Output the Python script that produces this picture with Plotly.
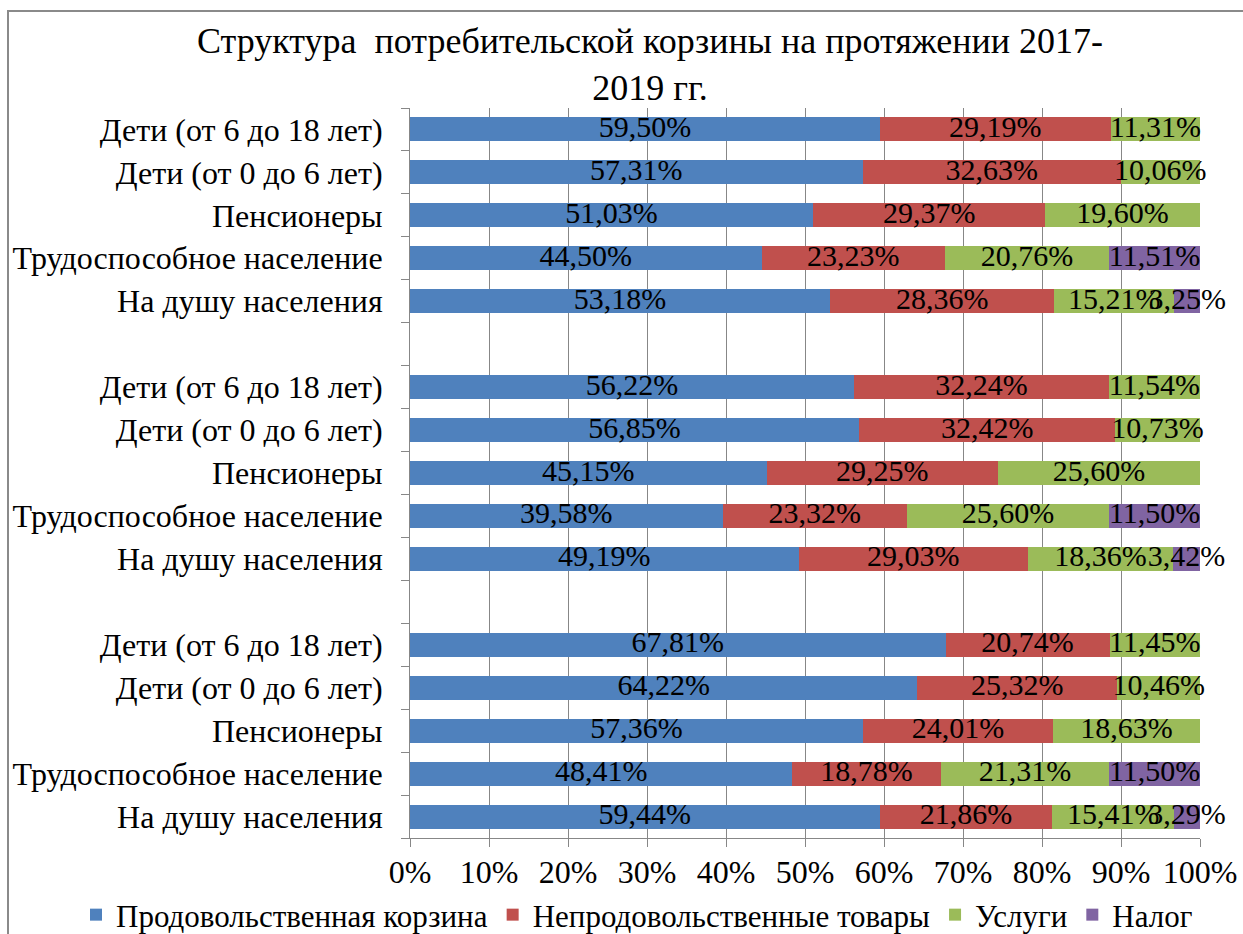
import plotly.graph_objects as go

# ---------------- data ----------------
categories = [
    "Дети (от 6 до 18 лет)",
    "Дети (от 0 до 6 лет)",
    "Пенсионеры",
    "Трудоспособное население",
    "На душу населения",
]  # top-to-bottom order inside a group

series_names = ["Продовольственная корзина", "Непродовольственные товары", "Услуги", "Налог"]
series_colors = ["#4F81BD", "#C0504D", "#9BBB59", "#8064A2"]

# groups listed top-to-bottom as drawn
group_top_food = [59.50, 57.31, 51.03, 44.50, 53.18]
group_top_nonfood = [29.19, 32.63, 29.37, 23.23, 28.36]
group_top_services = [11.31, 10.06, 19.60, 20.76, 15.21]
group_top_tax = [0, 0, 0, 11.51, 3.25]

group_mid_food = [56.22, 56.85, 45.15, 39.58, 49.19]
group_mid_nonfood = [32.24, 32.42, 29.25, 23.32, 29.03]
group_mid_services = [11.54, 10.73, 25.60, 25.60, 18.36]
group_mid_tax = [0, 0, 0, 11.50, 3.42]

group_bot_food = [67.81, 64.22, 57.36, 48.41, 59.44]
group_bot_nonfood = [20.74, 25.32, 24.01, 18.78, 21.86]
group_bot_services = [11.45, 10.46, 18.63, 21.31, 15.41]
group_bot_tax = [0, 0, 0, 11.50, 3.29]

x_ticks = list(range(0, 101, 10))
x_tick_labels = [f"{v}%" for v in x_ticks]

# ---------------- build axis categories (bottom to top) ----------------
groups = [
    [group_bot_food, group_bot_nonfood, group_bot_services, group_bot_tax],
    [group_mid_food, group_mid_nonfood, group_mid_services, group_mid_tax],
    [group_top_food, group_top_nonfood, group_top_services, group_top_tax],
]

y_labels = []
series_vals = [[] for _ in series_names]
for gi, g in enumerate(groups):
    if gi > 0:
        y_labels.append("\u200b" * (10 + gi))  # empty gap slot
        for s in range(len(series_names)):
            series_vals[s].append(None)
    for ci in reversed(range(len(categories))):
        y_labels.append(categories[ci] + "\u200b" * gi)
        for s in range(len(series_names)):
            series_vals[s].append(g[s][ci])


def fmt(v):
    return f"{v:.2f}".replace(".", ",") + "%"


FONT = "Liberation Serif"

W, H = 1243, 934
L, R, T, B = 410, 43, 108, 96
PW, PH = W - L - R, H - T - B

fig = go.Figure()
for s, name in enumerate(series_names):
    vals = [None if (v is None or v == 0) else v for v in series_vals[s]]
    fig.add_trace(go.Bar(
        x=vals,
        y=y_labels,
        orientation="h",
        name=name,
        marker=dict(color=series_colors[s], line=dict(width=0)),
        textposition="none",
        hoverinfo="skip",
    ))

# data labels centred on each segment (cumulative midpoints of the stacked values)
for s in range(len(series_names)):
    lx, ly, lt = [], [], []
    for i, lab in enumerate(y_labels):
        v = series_vals[s][i]
        if v is None or v == 0:
            continue
        base = sum((series_vals[k][i] or 0) for k in range(s))
        lx.append(base + v / 2)
        ly.append(lab)
        lt.append(fmt(v))
    fig.add_trace(go.Scatter(
        x=lx, y=ly, text=lt, mode="text",
        textposition="middle center",
        textfont=dict(family=FONT, size=30, color="black"),
        showlegend=False, cliponaxis=False, hoverinfo="skip",
    ))

fig.update_layout(
    barmode="stack",
    bargap=0.44,
    width=W,
    height=H,
    margin=dict(l=L, r=R, t=T, b=B, autoexpand=False),
    paper_bgcolor="white",
    plot_bgcolor="white",
    font=dict(family=FONT, size=30, color="black"),
    title=dict(
        text="Структура\u00a0 потребительской корзины на протяжении 2017-<br>2019 гг.",
        font=dict(family=FONT, size=36, color="black"),
        xref="container", x=650 / W, xanchor="center",
        yref="container", y=1 - 53 / H, yanchor="top",
    ),
    legend=dict(
        orientation="h",
        xref="paper", yref="paper",
        x=(76 - L) / PW, xanchor="left",
        y=(H - B - 915) / PH, yanchor="middle",
        font=dict(family=FONT, size=31, color="black"),
        itemwidth=30,
        traceorder="normal",
        bgcolor="rgba(0,0,0,0)",
    ),
    showlegend=True,
)

fig.update_xaxes(
    range=[0, 100],
    tickvals=x_ticks,
    ticktext=x_tick_labels,
    showgrid=True,
    gridcolor="#878787",
    gridwidth=1,
    showline=True,
    linecolor="#878787",
    linewidth=1,
    ticks="outside",
    ticklen=8,
    tickcolor="#878787",
    ticklabelstandoff=-2,
    zeroline=False,
    tickfont=dict(family=FONT, size=32, color="black"),
    fixedrange=True,
)

fig.update_yaxes(
    type="category",
    categoryorder="array",
    categoryarray=y_labels,
    range=[-0.5, len(y_labels) - 0.5],
    autorange=False,
    showgrid=False,
    showline=True,
    linecolor="#878787",
    linewidth=1,
    ticks="outside",
    tickson="boundaries",
    ticklen=8,
    tickcolor="#878787",
    ticklabelstandoff=20,
    tickfont=dict(family=FONT, size=32, color="black"),
    fixedrange=True,
)

# outer chart-area border (left/top visible as in the reference)
fig.add_shape(
    type="rect", xref="paper", yref="paper",
    x0=(8 - L) / PW, x1=1.2, y0=-0.3, y1=(H - B - 11) / PH,
    line=dict(color="#8a8a8a", width=2), fillcolor="rgba(0,0,0,0)", layer="below",
)

fig.write_html(
    "out.html",
    config={"displayModeBar": False},
    post_script="document.body.style.margin='0';",
)
